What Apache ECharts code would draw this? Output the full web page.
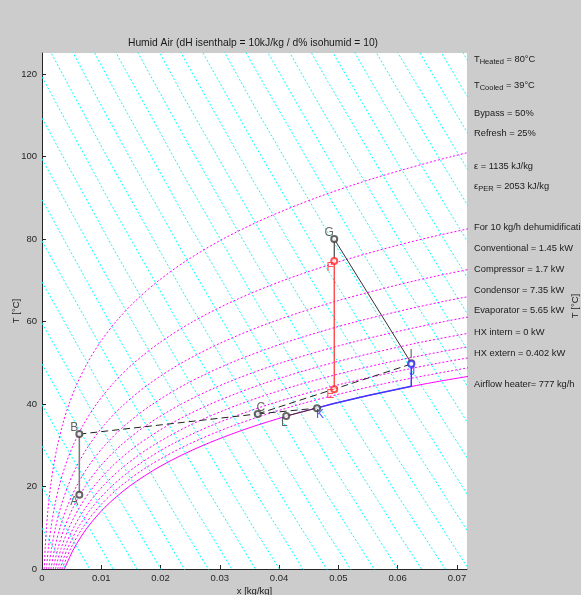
<!DOCTYPE html>
<html>
<head>
<meta charset="utf-8">
<title>Humid Air</title>
<script src="https://cdn.jsdelivr.net/npm/echarts@6/dist/echarts.min.js"></script>
<style>
html, body { margin: 0; padding: 0; background: #cccccc; }
#chart { width: 581px; height: 595px; }
</style>
</head>
<body>
<div id="chart"></div>
<script>
// tick labels
var xTicks = [0, 0.01, 0.02, 0.03, 0.04, 0.05, 0.06, 0.07];
var yTicks = [0, 20, 40, 60, 80, 100, 120];

// isenthalps, every 10 kJ/kg : T at fixed x columns (clipped by the axes)
var isoX = [0, 0.012, 0.024, 0.036, 0.048, 0.060, 0.072];
var isoH = [10, 20, 30, 40, 50, 60, 70, 80, 90, 100, 110, 120, 130, 140, 150, 160,
            170, 180, 190, 200, 210, 220, 230, 240, 250, 260, 270, 280, 290, 300, 310, 320];
var isoT = [
  [9.9, -19.5, -47.6, -74.6, -100.5, -125.3, -149.2],
  [19.9, -9.7, -38.1, -65.3, -91.4, -116.4, -140.4],
  [29.8, 0.0, -28.6, -56.0, -82.2, -107.4, -131.7],
  [39.8, 9.7, -19.1, -46.6, -73.1, -98.5, -122.9],
  [49.7, 19.4, -9.5, -37.3, -64.0, -89.5, -114.1],
  [59.6, 29.2, 0.0, -28.0, -54.8, -80.6, -105.3],
  [69.6, 38.9, 9.5, -18.7, -45.7, -71.6, -96.6],
  [79.5, 48.6, 19.0, -9.4, -36.6, -62.7, -87.8],
  [89.5, 58.3, 28.5, 0.0, -27.4, -53.7, -79.0],
  [99.4, 68.1, 38.1, 9.3, -18.3, -44.8, -70.2],
  [109.3, 77.8, 47.6, 18.6, -9.2, -35.8, -61.5],
  [119.3, 87.5, 57.1, 27.9, 0.0, -26.9, -52.7],
  [129.2, 97.2, 66.6, 37.3, 9.1, -18.0, -43.9],
  [139.2, 107.0, 76.1, 46.6, 18.2, -9.0, -35.2],
  [149.1, 116.7, 85.6, 55.9, 27.4, 0.0, -26.4],
  [159.0, 126.4, 95.2, 65.2, 36.5, 8.9, -17.6],
  [169.0, 136.1, 104.7, 74.5, 45.6, 17.8, -8.8],
  [178.9, 145.9, 114.2, 83.9, 54.7, 26.8, -0.1],
  [188.9, 155.6, 123.7, 93.2, 63.9, 35.7, 8.7],
  [198.8, 165.3, 133.2, 102.5, 73.0, 44.7, 17.5],
  [208.7, 175.0, 142.8, 111.8, 82.1, 53.6, 26.3],
  [218.7, 184.8, 152.3, 121.1, 91.3, 62.6, 35.0],
  [228.6, 194.5, 161.8, 130.5, 100.4, 71.5, 43.8],
  [238.6, 204.2, 171.3, 139.8, 109.5, 80.5, 52.6],
  [248.5, 213.9, 180.8, 149.1, 118.7, 89.4, 61.3],
  [258.5, 223.7, 190.3, 158.4, 127.8, 98.4, 70.1],
  [268.4, 233.4, 199.9, 167.7, 136.9, 107.3, 78.9],
  [278.3, 243.1, 209.4, 177.1, 146.0, 116.3, 87.7],
  [288.3, 252.8, 218.9, 186.4, 155.2, 125.2, 96.4],
  [298.2, 262.6, 228.4, 195.7, 164.3, 134.2, 105.2],
  [308.2, 272.3, 237.9, 205.0, 173.4, 143.1, 114.0],
  [318.1, 282.0, 247.5, 214.3, 182.6, 152.1, 122.8]
];

// relative humidity curves, every 10 % : x at T = 0, 5, 10, ... °C
var rhT = [0, 5, 10, 15, 20, 25, 30, 35, 40, 45, 50, 55, 60, 65, 70, 75, 80, 85, 90, 95, 100, 105];
var rhLevels = [10, 20, 30, 40, 50, 60, 70, 80, 90];
var rhX = [
  [0.000375, 0.000536, 0.000755, 0.001048, 0.001439, 0.001951, 0.002617, 0.003474, 0.004566, 0.005945, 0.007675,
   0.009827, 0.012486, 0.015754, 0.019755, 0.024620, 0.030518, 0.037649, 0.046258, 0.056628, 0.069115, 0.084193],
  [0.000751, 0.001072, 0.001511, 0.002100, 0.002885, 0.003915, 0.005257, 0.006987, 0.009200, 0.012005, 0.015541,
   0.019970, 0.025484, 0.032327, 0.040805, 0.051270, 0.064186, 0.080148],
  [0.001127, 0.001610, 0.002270, 0.003156, 0.004338, 0.005891, 0.007919, 0.010540, 0.013902, 0.018183, 0.023607,
   0.030444, 0.039025, 0.049785, 0.063284, 0.080211],
  [0.001504, 0.002149, 0.003030, 0.004215, 0.005797, 0.007880, 0.010603, 0.014133, 0.018676, 0.024482, 0.031879,
   0.041266, 0.053145, 0.068200, 0.087340],
  [0.001881, 0.002688, 0.003792, 0.005278, 0.007263, 0.009881, 0.013311, 0.017768, 0.023521, 0.030907, 0.040366,
   0.052452, 0.067882, 0.087651],
  [0.002259, 0.003228, 0.004556, 0.006344, 0.008736, 0.011895, 0.016042, 0.021444, 0.028440, 0.037461, 0.049077,
   0.064022, 0.083276],
  [0.002637, 0.003770, 0.005322, 0.007414, 0.010216, 0.013922, 0.018797, 0.025162, 0.033435, 0.044147, 0.058019,
   0.075997],
  [0.003015, 0.004312, 0.006090, 0.008487, 0.011703, 0.015962, 0.021575, 0.028924, 0.038507, 0.050971, 0.067203,
   0.088395],
  [0.003394, 0.004855, 0.006859, 0.009565, 0.013197, 0.018015, 0.024378, 0.032730, 0.043659, 0.057935, 0.076637]
];
// saturation (100 %)
var satX = [0.003773, 0.005399, 0.007631, 0.010646, 0.014698, 0.020082, 0.027205, 0.036580, 0.048891, 0.065046, 0.086340];

// process states
var stateNames = ['A', 'B', 'C', 'L', 'K', 'E', 'F', 'G', 'I', 'J'];
var stateX = [0.0063, 0.0063, 0.0364, 0.0412, 0.0464, 0.0493, 0.0493, 0.0493, 0.0623, 0.0623];
var stateT = [18.0, 32.7, 37.6, 37.1, 39.0, 43.6, 74.7, 80.0, 49.9, 49.7];

// cooling path J -> saturation -> K
var coolX = [0.0623, 0.0623, 0.0548, 0.0489, 0.0464];
var coolT = [49.7, 44.3, 42.0, 40.0, 39.0];

var infoLines = [
  '{t|T}{s|Heated}{t| = 80°C}',
  '{t|T}{s|Cooled}{t| = 39°C}',
  'Bypass = 50%',
  'Refresh = 25%',
  'ε = 1135 kJ/kg',
  '{t|ε}{s|PER}{t| = 2053 kJ/kg}',
  'For 10 kg/h dehumidification',
  'Conventional = 1.45 kW',
  'Compressor = 1.7 kW',
  'Condensor = 7.35 kW',
  'Evaporator = 5.65 kW',
  'HX intern = 0 kW',
  'HX extern = 0.402 kW',
  'Airflow heater= 777 kg/h'
];
var infoY = [59, 85, 113, 133, 166, 186, 227, 248, 269, 290, 310, 332, 353, 384];

var font = "'Liberation Sans', Arial, sans-serif";
var chart = echarts.init(document.getElementById('chart'));

function pt(name) {
  var i = stateNames.indexOf(name);
  return [stateX[i], stateT[i]];
}

var series = [];

isoH.forEach(function (h, i) {
  series.push({
    type: 'line', name: 'h' + h, silent: true, symbol: 'none', z: 1,
    lineStyle: { color: '#00ffff', width: 1, type: [2, 2] },
    data: isoX.map(function (x, j) { return [x, isoT[i][j]]; })
  });
});

rhLevels.forEach(function (r, i) {
  series.push({
    type: 'line', name: 'phi' + r, silent: true, symbol: 'none', z: 2, smooth: 0.3,
    lineStyle: { color: '#ff00ff', width: 1, type: [2, 2] },
    data: rhX[i].map(function (x, j) { return [x, rhT[j]]; })
  });
});

series.push({
  type: 'line', name: 'sat', silent: true, symbol: 'none', z: 2, smooth: 0.3,
  lineStyle: { color: '#ff00ff', width: 1 },
  data: satX.map(function (x, j) { return [x, rhT[j]]; })
});

function seg(a, b, color, type, width) {
  series.push({
    type: 'line', silent: true, symbol: 'none', z: 5,
    lineStyle: { color: color, width: width || 1, type: type || 'solid' },
    data: [pt(a), pt(b)]
  });
}
seg('A', 'B', '#7a7a7a', 'solid', 1.5);
seg('B', 'C', '#222', [7, 4]);
seg('C', 'K', '#222', [7, 4]);
seg('C', 'J', '#222', [7, 4]);
seg('L', 'K', '#333', 'solid');
seg('F', 'G', '#222', 'solid');
seg('G', 'I', '#333', 'solid');
seg('E', 'F', '#ff2a2a', 'solid', 1.2);

series.push({
  type: 'line', silent: true, symbol: 'none', z: 5,
  lineStyle: { color: '#3a3aff', width: 1.5 },
  data: coolX.map(function (x, j) { return [x, coolT[j]]; })
});

var labelStyle = {
  A: { off: [-5, 7], c: '#404040', m: '#404040' },
  B: { off: [-5, -6], c: '#404040', m: '#404040' },
  C: { off: [3, -6], c: '#404040', m: '#404040' },
  L: { off: [-2, 7], c: '#404040', m: '#404040' },
  K: { off: [3, 7], c: '#2a2aff', m: '#404040' },
  E: { off: [-4, 6], c: '#ff2a2a', m: '#ff2a2a' },
  F: { off: [-4, 7], c: '#ff2a2a', m: '#ff2a2a' },
  G: { off: [-5, -6], c: '#404040', m: '#404040' },
  I: { off: [0, -8], c: '#404040', m: '#404040' },
  J: { off: [1, 8], c: '#2a2aff', m: '#3a3aff' }
};

series.push({
  type: 'scatter', z: 10, symbol: 'emptyCircle', symbolSize: 6,
  data: stateNames.map(function (n, i) {
    var s = labelStyle[n];
    return {
      value: [stateX[i], stateT[i]],
      itemStyle: { color: s.m, borderColor: s.m, borderWidth: 1 },
      label: {
        show: true, position: 'inside', offset: s.off, formatter: n,
        color: s.c, fontSize: 12, fontFamily: font
      }
    };
  })
});

var graphics = [
  {
    type: 'text', x: 253, y: 43,
    style: {
      text: 'Humid Air (dH isenthalp = 10kJ/kg / d% isohumid = 10)',
      fill: '#1a1a1a', font: '10.3px ' + font, align: 'center', verticalAlign: 'middle'
    }
  },
  {
    type: 'text', x: 575, y: 306, rotation: Math.PI / 2,
    style: { text: 'T [°C]', fill: '#1a1a1a', font: '9.5px ' + font, align: 'center', verticalAlign: 'middle' }
  }
];
infoLines.forEach(function (t, i) {
  graphics.push({
    type: 'text', x: 474, y: infoY[i],
    style: {
      text: t, fill: '#1a1a1a', font: '9.3px ' + font, verticalAlign: 'middle',
      rich: {
        t: { fontSize: 9.3, fontFamily: font, fill: '#1a1a1a', verticalAlign: 'middle', lineHeight: 14 },
        s: { fontSize: 7.5, fontFamily: font, fill: '#1a1a1a', verticalAlign: 'bottom', lineHeight: 14, padding: [9, 0, 0, 0] }
      }
    }
  });
});

chart.setOption({
  backgroundColor: '#cccccc',
  animation: false,
  grid: {
    left: 42, right: 114, top: 53, bottom: 26,
    outerBoundsMode: 'none', containLabel: false,
    show: true, backgroundColor: '#ffffff', borderWidth: 0
  },
  xAxis: {
    type: 'value', min: 0, max: 0.0717, interval: 0.01,
    name: 'x [kg/kg]', nameLocation: 'middle', nameGap: 17, nameMoveOverlap: false,
    nameTextStyle: { color: '#1a1a1a', fontSize: 9.5, fontFamily: font },
    axisLine: { show: true, lineStyle: { color: '#262626', width: 1 } },
    axisTick: { show: true, inside: true, length: 4, customValues: xTicks, lineStyle: { color: '#262626' } },
    axisLabel: {
      customValues: xTicks, color: '#262626', fontSize: 9.5, fontFamily: font, margin: 4,
      formatter: function (v) { return String(+(+v).toFixed(2)); }
    },
    splitLine: { show: false }
  },
  yAxis: {
    type: 'value', min: 0, max: 125.1, interval: 20,
    name: 'T [°C]', nameLocation: 'middle', nameGap: 21, nameMoveOverlap: false,
    nameTextStyle: { color: '#1a1a1a', fontSize: 9.5, fontFamily: font },
    axisLine: { show: true, lineStyle: { color: '#262626', width: 1 } },
    axisTick: { show: true, inside: true, length: 4, customValues: yTicks, lineStyle: { color: '#262626' } },
    axisLabel: { customValues: yTicks, color: '#262626', fontSize: 9.5, fontFamily: font, margin: 5 },
    splitLine: { show: false }
  },
  graphic: graphics,
  series: series
});
</script>
</body>
</html>
